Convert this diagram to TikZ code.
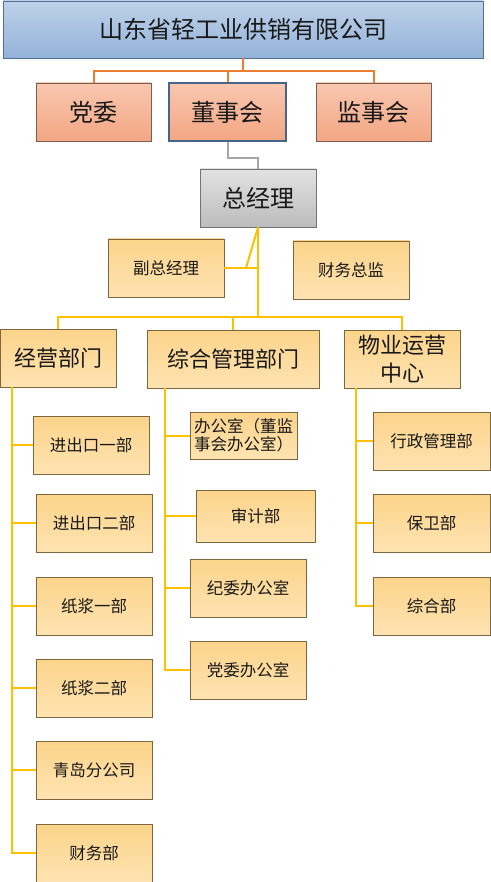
\documentclass[tikz,border=0pt]{standalone}
\usepackage{fontspec}
\setmainfont{Noto Sans CJK SC}
\definecolor{bluetop}{HTML}{BED2EA}
\definecolor{bluebot}{HTML}{93B2D8}
\definecolor{blueedge}{HTML}{4F6F98}
\definecolor{redtop}{HTML}{F9C7B0}
\definecolor{redbot}{HTML}{F3A683}
\definecolor{rededge}{HTML}{7A5E52}
\definecolor{greytop}{HTML}{E2E2E2}
\definecolor{greybot}{HTML}{BCBCBC}
\definecolor{yeltop}{HTML}{FCD48B}
\definecolor{yelbot}{HTML}{FEE3B1}
\definecolor{yeledge}{HTML}{7D6740}
\definecolor{oline}{HTML}{ED7D31}
\definecolor{yline}{HTML}{FFC000}
\definecolor{gline}{HTML}{A6A6A6}
\begin{document}
\begin{tikzpicture}[x=1pt, y=-1pt,
  box/.style = {draw=yeledge, line width=0.8pt, inner sep=0pt, text=black!90,
    top color=yeltop, bottom color=yelbot, minimum width=116pt, minimum height=58pt,
    font=\fontsize{16.5}{18}\selectfont},
  head/.style = {box, font=\fontsize{22}{28}\selectfont},
  board/.style = {box, draw=rededge, top color=redtop, bottom color=redbot,
    font=\fontsize{24}{28}\selectfont},
  conn/.style = {line width=2pt, yline}]
\useasboundingbox (0,0) rectangle (490,882);
% top levels
\node[box, draw=blueedge, top color=bluetop, bottom color=bluebot, minimum width=480pt,
  minimum height=57pt, font=\fontsize{24}{28}\selectfont] (co) at (243,29.5) {山东省轻工业供销有限公司};
\node[board, minimum width=115pt] (dw) at (93.5,112) {党委};
\node[board, draw=blueedge!90!black, line width=1.6pt, minimum width=117pt] (dsh) at (227.5,112) {董事会};
\node[board, minimum width=115pt] (js) at (373.5,112) {监事会};
\node[board, draw=black!55, top color=greytop, bottom color=greybot] (zjl) at (258,198) {总经理};
\node[box] (fz) at (166,268) {副总经理};
\node[box] (cw) at (351,270) {财务总监};
% departments
\node[head] (jy) at (58,358) {经营部门};
\node[head, minimum width=172pt] (zh) at (233,359) {综合管理部门};
\node[head, align=center] (wy) at (402,359) {物业运营\\中心};
\node[box] (a1) at (91,445) {进出口一部};
\node[box] (a2) at (94,523) {进出口二部};
\node[box] (a3) at (94,606) {纸浆一部};
\node[box] (a4) at (94,688) {纸浆二部};
\node[box] (a5) at (94,770) {青岛分公司};
\node[box] (a6) at (94,853) {财务部};
\node[box, align=left, minimum width=107pt, minimum height=47pt] (b1) at (243.5,435.5) {办公室（董监\\事会办公室）};
\node[box, minimum width=119pt, minimum height=52pt] (b2) at (255.5,516) {审计部};
\node[box] (b3) at (248,588) {纪委办公室};
\node[box] (b4) at (248,670) {党委办公室};
\node[box, minimum width=117pt] (c1) at (431.5,441) {行政管理部};
\node[box, minimum width=117pt] (c2) at (431.5,523) {保卫部};
\node[box, minimum width=117pt] (c3) at (431.5,606) {综合部};
% connectors
\coordinate (j1) at (243,71);
\coordinate (j3) at (258,317);
\coordinate (t1) at (12,387);
\coordinate (t2) at (165,388);
\coordinate (t3) at (356,388);
\draw[conn, oline] (co.south) -- (j1);
\draw[conn, oline] (dw.north) |- (j1) -| (js.north);
\draw[conn, oline] (dsh.north) -- (dsh.north |- j1);
\draw[conn, gline] (dsh.south) -- ++(0,16) -| (zjl.north);
\draw[conn] (zjl.south) -- (j3);
\draw[conn] (fz.east) -- (fz.east -| j3);
\draw[conn] (zjl.south) -- ([xshift=-12pt]fz.east -| j3);
\draw[conn] (jy.north) |- (j3) -| (wy.north);
\draw[conn] (zh.north) -- (zh.north |- j3);
\draw[conn] (t1) |- (a6.west);
\draw[conn] (t2) |- (b4.west);
\draw[conn] (t3) |- (c3.west);
\foreach \n in {a1,a2,a3,a4,a5} \draw[conn] (\n.west -| t1) -- (\n.west);
\foreach \n in {b1,b2,b3} \draw[conn] (\n.west -| t2) -- (\n.west);
\foreach \n in {c1,c2} \draw[conn] (\n.west -| t3) -- (\n.west);
\end{tikzpicture}
\end{document}
